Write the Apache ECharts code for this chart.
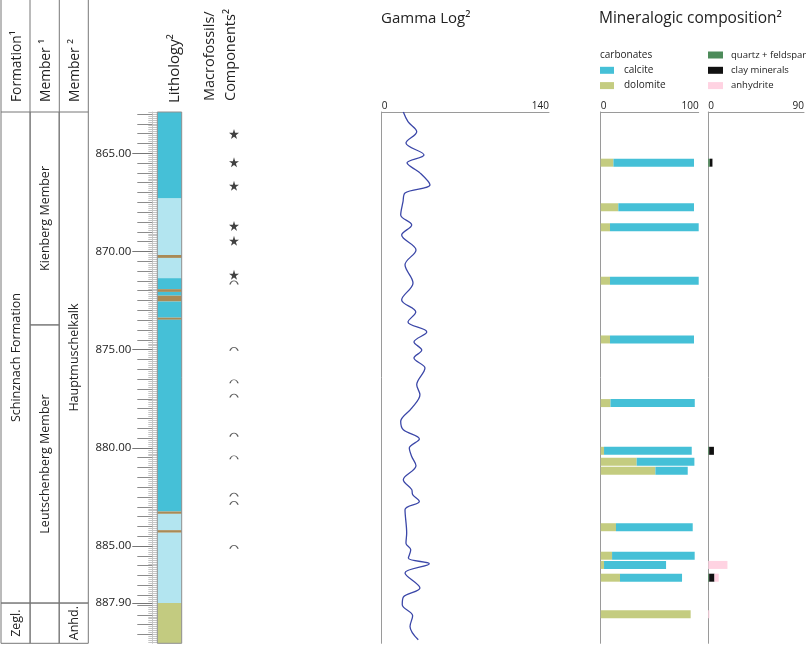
<!DOCTYPE html>
<html><head><meta charset="utf-8">
<script src="https://cdn.jsdelivr.net/npm/echarts@6/dist/echarts.min.js"></script>
<style>html,body{margin:0;padding:0;background:#fff}#c{width:807px;height:645px}</style>
</head><body><div id="c"></div>
<script>
const FONT = "'Open Sans', sans-serif";
const DEPTH_MIN = 862.9, DEPTH_MAX = 889.95;
const depthLabels = [865, 870, 875, 880, 885, 887.9];

// stratigraphic table
const unitCol = [0, 0, 1, 1, 1, 2, 2];
const unitTop = [862.9, 887.9, 862.9, 873.74, 887.9, 862.9, 887.9];
const unitBottom = [887.9, 889.95, 873.74, 887.9, 889.95, 887.9, 889.95];
const unitName = ['Schinznach Formation', 'Zegl.', 'Kienberg Member', 'Leutschenberg Member', '', 'Hauptmuschelkalk', 'Anhd.'];
const headerNames = ['Formation¹', 'Member ¹', 'Member ²'];

// lithology
const lithColors = ['#45c0d7', '#b3e5f0', '#a98a56', '#c3cb80'];
const lithTop = [862.9, 867.31, 870.18, 870.33, 871.36, 871.92, 872.06, 872.25, 872.55, 873.37, 873.48, 883.24, 883.36, 884.19, 884.32, 887.9];
const lithBottom = [867.31, 870.18, 870.33, 871.36, 871.92, 872.06, 872.25, 872.55, 873.37, 873.48, 883.24, 883.36, 884.19, 884.32, 887.9, 889.95];
const lithType = [0, 1, 2, 1, 0, 2, 0, 2, 0, 2, 0, 2, 1, 2, 1, 3];

// macrofossils / components
const starDepths = [864.02, 865.46, 866.66, 868.70, 869.46, 871.19];
const arcDepths = [871.59, 874.97, 876.62, 877.35, 879.34, 880.49, 882.39, 882.81, 885.05];

// gamma log
const gammaDepth = [862.9, 863.39, 863.90, 864.48, 865.09, 865.49, 866.0, 866.61, 867.02, 867.48, 868.14, 868.65, 869.16, 869.92, 870.68, 871.60, 872.47, 873.08, 873.59, 874.10, 874.61, 875.02, 875.43, 875.94, 876.79, 877.30, 877.98, 878.66, 879.08, 879.55, 880.01, 880.44, 880.91, 881.62, 882.12, 882.38, 882.73, 883.15, 884.34, 884.85, 885.19, 885.61, 885.90, 886.37, 887.14, 887.60, 887.99, 888.55, 889.09, 889.77];
const gammaValue = [18.1, 22.0, 29.3, 20.3, 35.4, 21.2, 32.0, 40.4, 19.5, 17.8, 15.9, 25.1, 16.7, 28.7, 19.5, 26.2, 16.7, 28.5, 22.0, 37.7, 27.0, 33.5, 27.0, 36.2, 29.3, 32.0, 25.1, 15.9, 18.1, 31.5, 23.1, 25.1, 28.7, 18.1, 25.1, 25.9, 31.5, 19.5, 20.9, 20.3, 24.3, 22.3, 39.8, 19.5, 32.0, 18.1, 17.2, 25.9, 23.7, 30.6];

// mineralogic composition (wt %)
const mineralDepth = [865.48, 867.75, 868.77, 871.49, 874.48, 877.72, 880.15, 880.71, 881.16, 884.04, 885.49, 885.96, 886.61, 888.47];
const dolomite = [13, 18, 9.5, 9.5, 9.5, 10, 3.4, 36.7, 55.8, 15.6, 11.6, 3.4, 19.7, 91.8];
const calcite = [82.2, 77.2, 90.5, 90.5, 85.7, 86, 89.5, 58.9, 33, 78.3, 84.3, 63.3, 63.3, 0];
const quartzFeldspar = [1.5, 0, 0, 0, 0, 0, 0.8, 0, 0, 0, 0, 0, 0.8, 0];
const clayMinerals = [2.4, 0, 0, 0, 0, 0, 4.5, 0, 0, 0, 0, 0, 5, 0];
const anhydrite = [0, 0, 0, 0, 0, 0, 0, 0, 0, 0, 0, 18, 4, 1];

const gammaTicks = [0, 140];
const mineralTicksA = [0, 100];
const mineralTicksB = [0, 90];

const minorTicks = [], halfTicks = [];
for (let i = 8629; i <= 8899; i++) minorTicks.push(i / 10);
for (let i = 1726; i <= 1779; i++) halfTicks.push(i / 2);

const GRID_TOP = 112, GRID_H = 531.3;
function depthAxis(extra) {
  return Object.assign({type: 'value', inverse: true, min: DEPTH_MIN, max: DEPTH_MAX, position: 'left',
    splitLine: {show: false}, axisLabel: {show: false}, axisTick: {show: false},
    axisLine: {show: false}}, extra);
}
function topAxis(gridIndex, max, ticks) {
  return {type: 'value', gridIndex, min: 0, max, position: 'top',
    splitLine: {show: false}, axisTick: {show: false},
    axisLine: {show: true, lineStyle: {color: '#9a9a9a', width: 1}},
    axisLabel: {customValues: ticks, fontSize: 10, color: '#222', fontFamily: FONT, margin: 1,
      alignMinLabel: 'left', alignMaxLabel: 'right'}};
}

function stackedSeries(name, color, xIdx, yIdx, starts, values) {
  const data = [];
  mineralDepth.forEach((d, i) => { if (values[i] > 0) data.push([starts[i], starts[i] + values[i], d]); });
  return {type: 'custom', name, xAxisIndex: xIdx, yAxisIndex: yIdx, itemStyle: {color},
    encode: {x: [0, 1], y: 2}, data,
    renderItem(params, api) {
      const a = api.coord([api.value(0), api.value(2)]);
      const b = api.coord([api.value(1), api.value(2)]);
      return {type: 'rect', shape: {x: a[0], y: a[1] - 4, width: b[0] - a[0], height: 8},
        style: {fill: api.visual('color')}};
    }};
}

const zeros = mineralDepth.map(() => 0);
const qfEnd = quartzFeldspar.map(v => v);
const clayEnd = clayMinerals.map((v, i) => quartzFeldspar[i] + v);

const chart = echarts.init(document.getElementById('c'), null, {renderer: 'canvas'});

const headerX = [1, 30, 59.3, 88.3];
const graphics = [];
headerX.forEach(x => graphics.push({type: 'line', shape: {x1: x, y1: 0, x2: x, y2: GRID_TOP}, style: {stroke: '#777', lineWidth: 1}}));
headerNames.forEach((t, i) => graphics.push({type: 'text', x: (headerX[i] + headerX[i + 1]) / 2 + 1.5, y: 102, rotation: Math.PI / 2,
  style: {text: t, fill: '#222', font: "13.8px 'Open Sans'", align: 'left', verticalAlign: 'middle'}}));
graphics.push({type: 'text', x: 175, y: 103, rotation: Math.PI / 2, style: {text: 'Lithology²', fill: '#222', font: "15px 'Open Sans'", align: 'left', verticalAlign: 'middle'}});
graphics.push({type: 'text', x: 210, y: 101, rotation: Math.PI / 2, style: {text: 'Macrofossils/', fill: '#222', font: "14.5px 'Open Sans'", align: 'left', verticalAlign: 'middle'}});
graphics.push({type: 'text', x: 231, y: 101, rotation: Math.PI / 2, style: {text: 'Components²', fill: '#222', font: "14.5px 'Open Sans'", align: 'left', verticalAlign: 'middle'}});
graphics.push({type: 'text', x: 600, y: 55, style: {text: 'carbonates', fill: '#222', font: "10px 'Open Sans'", align: 'left', verticalAlign: 'middle'}});

const starPath = 'path://M50,0 L61,35 L98,35 L68,57 L79,91 L50,70 L21,91 L32,57 L2,35 L39,35 Z';
const arcPath = 'path://M0,9 C3,1 13,1 16,9';

const option = {
  animation: false,
  textStyle: {fontFamily: FONT},
  title: [
    {text: 'Gamma Log²', left: 381, top: 11, padding: 0, textStyle: {fontSize: 15, fontWeight: 'normal', color: '#222', fontFamily: FONT}},
    {text: 'Mineralogic composition²', left: 599, top: 11, padding: 0, textStyle: {fontSize: 15.5, fontWeight: 'normal', color: '#222', fontFamily: FONT}}
  ],
  legend: [
    {data: ['calcite', 'dolomite'], left: 600, top: 63.8, orient: 'vertical', padding: 0, itemWidth: 14, itemHeight: 7, itemGap: 2.3,
      icon: 'rect', selectedMode: false, textStyle: {fontSize: 10, color: '#222', lineHeight: 13, padding: [0, 0, 0, 5], fontFamily: FONT}},
    {data: ['quartz + feldspar', 'clay minerals', 'anhydrite'], left: 708, top: 48.5, orient: 'vertical', padding: 0, itemWidth: 15, itemHeight: 7, itemGap: 2.3,
      icon: 'rect', selectedMode: false, textStyle: {fontSize: 9.5, color: '#222', lineHeight: 13, padding: [0, 0, 0, 3], fontFamily: FONT}}
  ],
  graphic: graphics,
  grid: [
    {left: 1, top: GRID_TOP, width: 87.3, height: GRID_H},
    {left: 157.3, top: GRID_TOP, width: 24.4, height: GRID_H},
    {left: 224, top: GRID_TOP, width: 20, height: GRID_H},
    {left: 381.7, top: GRID_TOP, width: 167.3, height: GRID_H},
    {left: 600.7, top: GRID_TOP, width: 98, height: GRID_H},
    {left: 708.3, top: GRID_TOP, width: 98.4, height: GRID_H}
  ],
  xAxis: [
    {type: 'value', gridIndex: 0, min: 0, max: 3, show: false},
    {type: 'value', gridIndex: 1, min: 0, max: 1, show: false},
    {type: 'value', gridIndex: 2, min: 0, max: 1, show: false},
    topAxis(3, 140, gammaTicks),
    topAxis(4, 100, mineralTicksA),
    topAxis(5, 90, mineralTicksB)
  ],
  yAxis: [
    depthAxis({gridIndex: 0, show: false}),
    depthAxis({gridIndex: 1, offset: 5, axisTick: {show: true, customValues: minorTicks, length: 9, lineStyle: {color: '#c4c4c4', width: 1}}}),
    depthAxis({gridIndex: 1, offset: 5, axisTick: {show: true, customValues: halfTicks, length: 15, lineStyle: {color: '#8c8c8c', width: 1}}}),
    depthAxis({gridIndex: 1, offset: 5,
      axisLine: {show: true, lineStyle: {color: '#c8c8c8', width: 1}},
      axisTick: {show: true, customValues: depthLabels, length: 20, lineStyle: {color: '#777', width: 1}},
      axisLabel: {show: true, customValues: depthLabels, margin: 21, fontSize: 11.5, color: '#222', fontFamily: FONT,
        formatter: v => Number(v).toFixed(2)}}),
    depthAxis({gridIndex: 2, show: false}),
    depthAxis({gridIndex: 3, axisLine: {show: true, lineStyle: {color: '#9a9a9a', width: 1}}}),
    depthAxis({gridIndex: 4, axisLine: {show: true, lineStyle: {color: '#9a9a9a', width: 1}}}),
    depthAxis({gridIndex: 5, axisLine: {show: true, lineStyle: {color: '#9a9a9a', width: 1}}})
  ],
  series: [
    {type: 'custom', name: 'units', xAxisIndex: 0, yAxisIndex: 0,
      data: unitCol.map((c, i) => [c + 0.5, unitTop[i], unitBottom[i]]),
      renderItem(params, api) {
        const i = params.dataIndex;
        const p0 = api.coord([unitCol[i], unitTop[i]]);
        const p1 = api.coord([unitCol[i] + 1, unitBottom[i]]);
        const w = p1[0] - p0[0], h = p1[1] - p0[1];
        return {type: 'group', children: [
          {type: 'rect', shape: {x: p0[0], y: p0[1], width: w, height: h}, style: {fill: 'none', stroke: '#777', lineWidth: 1}},
          {type: 'text', x: p0[0] + w / 2 + 1, y: p0[1] + h / 2, rotation: Math.PI / 2,
            style: {text: unitName[i], fill: '#222', font: "12.5px 'Open Sans'", align: 'center', verticalAlign: 'middle'}}
        ]};
      }},
    {type: 'custom', name: 'lithology', xAxisIndex: 1, yAxisIndex: 1,
      data: lithTop.map((t, i) => [0.5, t, lithBottom[i], lithType[i]]),
      renderItem(params, api) {
        const a = api.coord([0, api.value(1)]);
        const b = api.coord([1, api.value(2)]);
        return {type: 'rect', shape: {x: a[0], y: a[1], width: b[0] - a[0], height: b[1] - a[1]},
          style: {fill: lithColors[api.value(3)]}};
      }},
    {type: 'custom', name: 'lithFrame', xAxisIndex: 1, yAxisIndex: 1, z: 3,
      data: [[0.5, DEPTH_MIN, DEPTH_MAX]],
      renderItem(params, api) {
        const a = api.coord([0, api.value(1)]);
        const b = api.coord([1, api.value(2)]);
        return {type: 'rect', shape: {x: a[0], y: a[1], width: b[0] - a[0], height: b[1] - a[1]},
          style: {fill: 'none', stroke: '#8f8f8f', lineWidth: 1}};
      }},
    {type: 'scatter', name: 'stars', xAxisIndex: 2, yAxisIndex: 4, symbol: starPath, symbolSize: 10,
      itemStyle: {color: '#111'}, data: starDepths.map(d => [0.5, d])},
    {type: 'scatter', name: 'arcs', xAxisIndex: 2, yAxisIndex: 4, symbol: arcPath, symbolSize: [8, 3.5],
      itemStyle: {color: 'rgba(0,0,0,0)', borderColor: '#333', borderWidth: 1}, data: arcDepths.map(d => [0.5, d])},
    {type: 'line', name: 'gamma', xAxisIndex: 3, yAxisIndex: 5, showSymbol: false, smooth: 0.35,
      lineStyle: {color: '#3b47a8', width: 1.3}, data: gammaDepth.map((d, i) => [gammaValue[i], d])},
    stackedSeries('dolomite', '#c4cc80', 4, 6, zeros, dolomite),
    stackedSeries('calcite', '#45c0d7', 4, 6, dolomite, calcite),
    stackedSeries('quartz + feldspar', '#4d8b5a', 5, 7, zeros, quartzFeldspar),
    stackedSeries('clay minerals', '#111111', 5, 7, qfEnd, clayMinerals),
    stackedSeries('anhydrite', '#ffd3e2', 5, 7, clayEnd, anhydrite)
  ]
};
chart.setOption(option);
</script>
</body></html>
